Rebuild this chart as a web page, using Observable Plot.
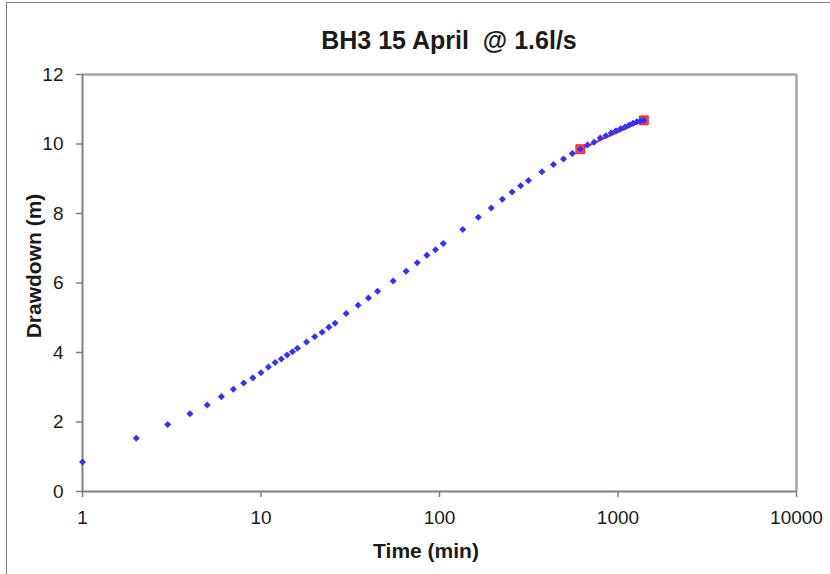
<!DOCTYPE html>
<html>
<head>
<meta charset="utf-8">
<script src="https://cdn.jsdelivr.net/npm/d3@7"></script>
<script src="https://cdn.jsdelivr.net/npm/@observablehq/plot@0.6"></script>
<style>
  html, body { margin: 0; padding: 0; background: #fff; }
  #wrap { position: relative; width: 830px; height: 574px; overflow: hidden; font-family: "Liberation Sans", Arial, sans-serif; }
  #border { position: absolute; left: 6px; top: 2px; width: 900px; height: 700px; border: 1.5px solid #7f7f7f; }
  .t { position: absolute; color: #1a1a1a; font-weight: bold; white-space: nowrap; line-height: 1; }
  #title { left: 449px; top: 28px; font-size: 25px; transform: translateX(-50%); }
  #xtitle { left: 426px; top: 540px; font-size: 21px; transform: translateX(-50%); }
  #ytitle { left: 33px; top: 266px; font-size: 21px; transform: translate(-50%, -50%) rotate(-90deg); }
  #chart { position: absolute; left: 0; top: 0; }
</style>
</head>
<body>
<div id="wrap">
  <div id="border"></div>
  <div id="chart"></div>
  <div class="t" id="title">BH3 15 April&nbsp; @ 1.6l/s</div>
  <div class="t" id="xtitle">Time (min)</div>
  <div class="t" id="ytitle">Drawdown (m)</div>
</div>
<script>
// Observed drawdown (blue diamonds)
const timeMin = [1,2,3,4,5,6,7,8,9,10,11,12,13,14,15,16,18,20,22,24,26,30,35,40,45,55,65,75,85,95,105,135,165,195,225,255,285,315,375,435,495,555,615,675,735,795,855,915,975,1035,1095,1155,1215,1275,1335,1395];
const drawdown = [0.85,1.53,1.93,2.24,2.49,2.73,2.94,3.12,3.27,3.42,3.58,3.71,3.81,3.93,4.02,4.12,4.30,4.45,4.58,4.73,4.84,5.12,5.36,5.57,5.76,6.06,6.34,6.58,6.80,6.96,7.14,7.54,7.89,8.16,8.41,8.62,8.80,8.95,9.20,9.41,9.57,9.73,9.85,9.97,10.05,10.17,10.24,10.32,10.38,10.44,10.49,10.55,10.60,10.64,10.66,10.68];
// Fitted segment (red squares + line)
const fitTime = [615, 1395];
const fitDrawdown = [9.85, 10.68];
// Axis ticks
const xTicks = [1, 10, 100, 1000, 10000];
const yTicks = [0, 2, 4, 6, 8, 10, 12];

const obs = timeMin.map((t, i) => ({t, d: drawdown[i]}));
const fit = fitTime.map((t, i) => ({t, d: fitDrawdown[i]}));

const diamond = {
  draw(ctx, size) {
    const h = Math.sqrt(size / 2);
    ctx.moveTo(0, -h); ctx.lineTo(h, 0); ctx.lineTo(0, h); ctx.lineTo(-h, 0); ctx.closePath();
  }
};

const chart = Plot.plot({
  width: 830,
  height: 574,
  marginLeft: 82,
  marginRight: 34,
  marginTop: 74,
  marginBottom: 83,
  x: {type: "log", domain: [1, 10000]},
  y: {domain: [0, 12]},
  style: {fontFamily: "'Liberation Sans', Arial, sans-serif", fontSize: "19px", color: "#1a1a1a", background: "transparent"},
  marks: [
    Plot.ruleY([12], {stroke: "#a6a6a6", strokeWidth: 2.5}),
    Plot.ruleX([10000], {stroke: "#a6a6a6", strokeWidth: 2.5}),
    Plot.ruleY([0], {stroke: "#808080", strokeWidth: 2}),
    Plot.ruleX([1], {stroke: "#808080", strokeWidth: 2}),
    Plot.axisX({ticks: xTicks, tickFormat: d => String(d), tickSize: 6, tickPadding: 13, label: null, stroke: "#808080", strokeWidth: 1.5, fill: "#1a1a1a"}),
    Plot.axisY({ticks: yTicks, tickSize: 6, tickPadding: 13, label: null, stroke: "#808080", strokeWidth: 1.5, fill: "#1a1a1a"}),
    Plot.line(fit, {x: "t", y: "d", stroke: "#ff1a1a", strokeWidth: 2}),
    Plot.dot(fit, {x: "t", y: "d", symbol: "square", r: 5, fill: "#ff4444", stroke: "#ff2222", strokeWidth: 1}),
    Plot.dot(obs, {x: "t", y: "d", symbol: diamond, r: 2.8, fill: "#3333ff", stroke: "none"})
  ]
});
document.getElementById("chart").appendChild(chart);
</script>
</body>
</html>
